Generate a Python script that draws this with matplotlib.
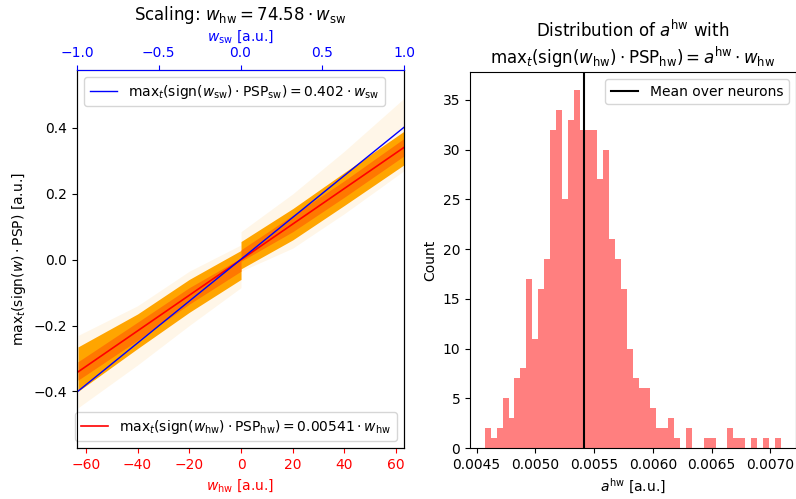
import numpy as np
import matplotlib
matplotlib.use("Agg")
import matplotlib.pyplot as plt

# ---------------- data ----------------
scale_hw_per_sw = 74.58
slope_sw = 0.402
slope_hw = 0.00541
sw_range = [-1.0, 1.0]
hw_range = [-63.0, 63.0]

# envelope of the scatter cloud, step at w = 0
cloud_x = [-63, -40, -20, 0, 0, 20, 40, 63]
outer_lo = [-0.45, -0.32, -0.2, -0.085, -0.035, 0.035, 0.14, 0.27]
core_lo = [-0.40, -0.27, -0.16, -0.06, -0.028, 0.06, 0.165, 0.288]
dark_lo = [-0.366, -0.245, -0.135, -0.035, -0.005, 0.085, 0.19, 0.315]
dark_hi = [-0.31, -0.19, -0.085, 0.005, 0.03, 0.135, 0.24, 0.368]
core_hi = [-0.265, -0.165, -0.06, 0.028, 0.055, 0.155, 0.265, 0.39]
outer_hi = [-0.23, -0.14, -0.035, 0.045, 0.085, 0.2, 0.33, 0.49]

# histogram of a^hw
hist_lo = 0.0045705
hist_hi = 0.0070875
hist_counts = [2, 1, 2, 5, 3, 7, 8, 17, 11, 16, 19, 32, 34, 25, 33, 36, 32, 32, 32, 27,
               30, 21, 19, 16, 10, 7, 6, 6, 4, 2, 2, 3, 1, 0, 2, 0, 0, 1, 1, 0,
               0, 2, 1, 1, 0, 1, 0, 1, 0, 1]
mean_a = 0.00541

# ---------------- figure ----------------
W, H = 796, 499
fig = plt.figure(figsize=(W / 100, H / 100), dpi=100)

axL = fig.add_axes([77 / W, 1 - 448 / H, (404 - 77) / W, (448 - 70) / H])
axT = axL.twiny()
axR = fig.add_axes([470 / W, 1 - 448 / H, (795.5 - 470) / W, (448 - 72) / H])

# cloud
axL.fill_between(cloud_x, outer_lo, outer_hi, color="#ffa500", alpha=0.09, lw=0)
axL.fill_between(cloud_x, core_lo, core_hi, color="#ffa500", lw=0)
axL.fill_between(cloud_x, dark_lo, dark_hi, color="#ff7000", lw=0, alpha=0.85)

xs_hw = np.array(hw_range)
axL.plot(xs_hw, slope_hw * xs_hw, color="red", lw=1.2,
         label=r"$\mathrm{max}_t(\mathrm{sign}(w_{\mathrm{hw}})\cdot\mathrm{PSP}_{\mathrm{hw}}) = 0.00541\cdot w_{\mathrm{hw}}$")
xs_sw = np.array(sw_range)
axT.plot(xs_sw, slope_sw * xs_sw, color="blue", lw=1.0,
         label=r"$\mathrm{max}_t(\mathrm{sign}(w_{\mathrm{sw}})\cdot\mathrm{PSP}_{\mathrm{sw}}) = 0.402\cdot w_{\mathrm{sw}}$")

axL.set_xlim(-63.4, 63.0)
axT.set_xlim(-1.0, 1.0)
axL.set_ylim(-0.572, 0.576)
axT.set_ylim(-0.572, 0.576)
axL.set_xticks([-60, -40, -20, 0, 20, 40, 60])
axL.set_yticks([-0.4, -0.2, 0.0, 0.2, 0.4])
axT.set_xticks([-1.0, -0.5, 0.0, 0.5, 1.0])

axL.tick_params(axis="x", colors="red")
axT.tick_params(axis="x", colors="blue")
axT.spines["top"].set_color("blue")
axL.set_xlabel(r"$w_{\mathrm{hw}}$ [a.u.]", color="red")
axT.set_xlabel(r"$w_{\mathrm{sw}}$ [a.u.]", color="blue")
axL.set_ylabel(r"$\mathrm{max}_t(\mathrm{sign}(w)\cdot\mathrm{PSP})$ [a.u.]")
axT.set_title(r"Scaling: $w_{\mathrm{hw}} = 74.58\cdot w_{\mathrm{sw}}$", fontsize=12)

axT.legend(loc="upper left")
axL.legend(loc="lower right")

# histogram
edges = np.linspace(hist_lo, hist_hi, len(hist_counts) + 1)
centers = 0.5 * (edges[:-1] + edges[1:])
axR.hist(centers, bins=edges, weights=hist_counts, color="red", alpha=0.5)
axR.axvline(mean_a, color="black", lw=1.5, label="Mean over neurons")
axR.set_xlim(0.004444, 0.007214)
axR.set_xticks([0.0045, 0.0050, 0.0055, 0.0060, 0.0065, 0.0070])
axR.set_yticks([0, 5, 10, 15, 20, 25, 30, 35])
axR.set_ylabel("Count")
axR.set_xlabel(r"$a^{\mathrm{hw}}$ [a.u.]")
axR.set_title("Distribution of $a^{\\mathrm{hw}}$ with\n"
              r"$\mathrm{max}_t(\mathrm{sign}(w_{\mathrm{hw}})\cdot\mathrm{PSP}_{\mathrm{hw}}) = a^{\mathrm{hw}}\cdot w_{\mathrm{hw}}$",
              fontsize=12)
axR.legend(loc="upper right")

fig.savefig("out.png", dpi=100)
